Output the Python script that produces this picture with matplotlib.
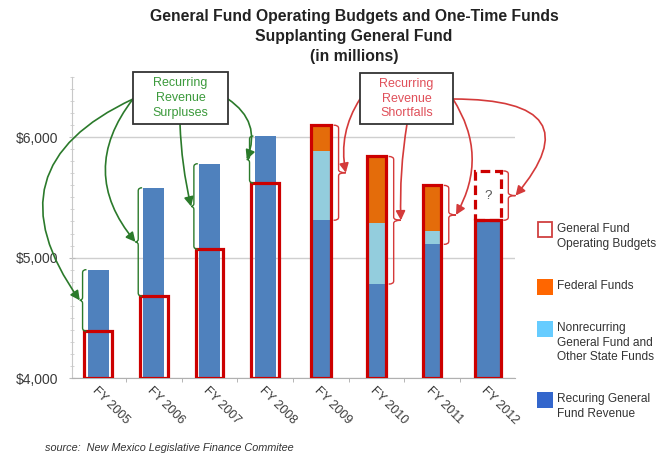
import numpy as np
import matplotlib
matplotlib.use('Agg')
import matplotlib.pyplot as plt
from matplotlib.patches import Rectangle, PathPatch
from matplotlib.path import Path
from matplotlib.ticker import MultipleLocator

plt.rcParams['font.family'] = ['Liberation Sans', 'DejaVu Sans']

# ---------- data (millions of dollars) ----------
years = ['FY 2005', 'FY 2006', 'FY 2007', 'FY 2008',
         'FY 2009', 'FY 2010', 'FY 2011', 'FY 2012']
recurring = [4900, 5580, 5780, 6010, 5310, 4780, 5110, 5310]
nonrecurring = [0, 0, 0, 0, 575, 510, 110, 0]
federal = [0, 0, 0, 0, 215, 550, 380, 0]
budgets = [4390, 4680, 5070, 5620, 6100, 5840, 5600, 5720]
base = 4000

legend_labels = ['General Fund\nOperating Budgets', 'Federal Funds',
                 'Nonrecurring\nGeneral Fund and\nOther State Funds',
                 'Recuring General\nFund Revenue']

# ---------- colours ----------
BLUE = '#4f81bd'
LIGHT = '#93cddd'
ORANGE = '#e46c0a'
RED = '#cc0000'
GREEN_T = '#3c9a3c'
GREEN_A = '#2b7a2b'
RED_T = '#e0505a'
RED_A = '#d43a3a'

W, H = 660, 455

def fx(px):
    return px / W

def fy(py):
    return 1 - py / H

fig = plt.figure(figsize=(W / 100, H / 100), dpi=100)
ax = fig.add_axes([fx(72), fy(378), (515 - 72) / W, (378 - 77) / H])

x = np.arange(len(years))
rec = np.array(recurring, dtype=float)
nonrec = np.array(nonrecurring, dtype=float)
fed = np.array(federal, dtype=float)
bud = np.array(budgets, dtype=float)

widths = np.array([0.38, 0.38, 0.38, 0.38, 0.36, 0.34, 0.32, 0.46])

ax.bar(x, rec - base, bottom=base, width=widths, color=BLUE, zorder=2)
ax.bar(x, nonrec, bottom=rec, width=widths, color=LIGHT, zorder=2)
ax.bar(x, fed, bottom=rec + nonrec, width=widths, color=ORANGE, zorder=2)

# red operating budget frames
ax.bar(x[:4], bud[:4] - base, bottom=base, width=0.5, fill=False,
       edgecolor=RED, linewidth=2.3, zorder=3)
ax.bar(x[4:7], bud[4:7] - base, bottom=base, width=widths[4:7], fill=False,
       edgecolor=RED, linewidth=2.3, zorder=3)
ax.bar(x[7:], rec[7:] - base, bottom=base, width=widths[7:], fill=False,
       edgecolor=RED, linewidth=2.3, zorder=3)
ax.bar(x[7:], bud[7:] - rec[7:], bottom=rec[7:], width=widths[7:], fill=False,
       edgecolor=RED, linewidth=2.3, linestyle=(0, (3, 1.5)), zorder=3)
ax.text(x[7], (rec[7] + bud[7]) / 2, '?', ha='center', va='center',
        fontsize=9.5, color='#555555', zorder=4)

# ---------- axes styling ----------
ax.set_xlim(-0.47, 7.49)
ax.set_ylim(base, 6500)
ax.set_yticks([4000, 5000, 6000])
ax.set_yticklabels(['$4,000', '$5,000', '$6,000'])
ax.yaxis.set_minor_locator(MultipleLocator(100))
ax.tick_params(axis='y', which='major', length=4, direction='inout',
               color='#bbbbbb', labelsize=10, labelcolor='#3a3a3a', pad=8)
ax.tick_params(axis='y', which='minor', length=3, direction='inout',
               color='#cccccc')
ax.set_xticks(x)
ax.set_xticklabels(years, rotation=-45, ha='left', va='top',
                   rotation_mode='anchor')
ax.set_xticks(x[:-1] + 0.5, minor=True)
ax.tick_params(axis='x', which='major', length=0, labelsize=9,
               labelcolor='#3a3a3a', pad=5)
ax.tick_params(axis='x', which='minor', length=3, color='#aaaaaa')

ax.yaxis.grid(True, color='#cfcfcf', linewidth=1)
ax.set_axisbelow(True)
for s in ['top', 'right']:
    ax.spines[s].set_visible(False)
ax.spines['left'].set_color('#c8c8c8')
ax.spines['bottom'].set_color('#b0b0b0')


# ---------- braces ----------
def brace(xb, y0, y1, w_end, w_tip, side, color):
    h = min(25, (y1 - y0) / 4)
    ym = (y0 + y1) / 2
    e = -side * w_end
    verts = [(xb + e, y1), (xb, y1), (xb, y1 - h),
             (xb, ym + h),
             (xb, ym), (xb + side * w_tip, ym),
             (xb, ym), (xb, ym - h),
             (xb, y0 + h),
             (xb, y0), (xb + e, y0)]
    codes = [Path.MOVETO, Path.CURVE3, Path.CURVE3, Path.LINETO,
             Path.CURVE3, Path.CURVE3, Path.CURVE3, Path.CURVE3,
             Path.LINETO, Path.CURVE3, Path.CURVE3]
    ax.add_patch(PathPatch(Path(verts, codes), fill=False, edgecolor=color,
                           linewidth=1.0, zorder=4, clip_on=False))
    return xb + side * w_tip, ym

tips = []
for i in range(4):
    xb = x[i] - widths[i] / 2 - 0.09
    tips.append(brace(xb, bud[i], rec[i], 0.07, 0.05, -1, GREEN_A))
for i in range(4, 8):
    top = max(bud[i], rec[i] + nonrec[i] + fed[i])
    xb = x[i] + widths[i] / 2 + 0.14
    tips.append(brace(xb, rec[i], top, 0.09, 0.13, 1, RED_A))

# ---------- callout boxes and arrows ----------
def callout(x0, y0, x1, y1, text, tcolor):
    fig.add_artist(Rectangle((fx(x0), fy(y1)), (x1 - x0) / W, (y1 - y0) / H,
                             transform=fig.transFigure, facecolor='white',
                             edgecolor='#333333', linewidth=1.3, zorder=5))
    fig.text(fx((x0 + x1) / 2), fy((y0 + y1) / 2), text, ha='center',
             va='center', fontsize=9, color=tcolor, linespacing=1.3,
             zorder=6)

def arrow(start, tip, style, color):
    ax.annotate('', xy=tip, xycoords='data',
                xytext=(fx(start[0]), fy(start[1])),
                textcoords='figure fraction',
                arrowprops=dict(arrowstyle='-|>,head_length=0.55,head_width=0.28',
                                color=color, lw=1.2, shrinkA=0, shrinkB=0,
                                connectionstyle=style),
                zorder=4, annotation_clip=False)

callout(133, 72, 228, 124, 'Recurring\nRevenue\nSurpluses', GREEN_T)
callout(360, 73, 453, 124, 'Recurring\nRevenue\nShortfalls', RED_T)

arrow((133, 99), tips[0], 'arc3,rad=0.6', GREEN_A)
arrow((133, 99), tips[1], 'arc3,rad=0.4', GREEN_A)
arrow((180, 124), tips[2], 'arc3,rad=0.05', GREEN_A)
arrow((228, 99), tips[3], 'arc3,rad=-0.4', GREEN_A)

arrow((360, 99), tips[4], 'arc3,rad=0.2', RED_A)
arrow((407, 124), tips[5], 'arc3,rad=0.05', RED_A)
arrow((453, 99), tips[6], 'arc3,rad=-0.3', RED_A)
arrow((453, 99), tips[7], 'angle3,angleA=0,angleB=50', RED_A)

# ---------- title, legend, source ----------
fig.text(fx(354), fy(9), 'General Fund Operating Budgets and One-Time Funds\n'
         'Supplanting General Fund\n(in millions)', ha='center', va='top',
         fontsize=11.3, fontweight='bold', color='#222222', linespacing=1.42)

leg_tops = [222, 279, 321, 392]
for lab, top, k in zip(legend_labels, leg_tops, range(4)):
    if k == 0:
        patch = Rectangle((fx(538), fy(top + 15)), 14 / W, 15 / H,
                          transform=fig.transFigure, facecolor='white',
                          edgecolor='#d04040', linewidth=1.3)
    else:
        col = ['#ff6600', '#66ccff', '#3366cc'][k - 1]
        patch = Rectangle((fx(537), fy(top + 16)), 16 / W, 16 / H,
                          transform=fig.transFigure, facecolor=col,
                          edgecolor='none')
    fig.add_artist(patch)
    fig.text(fx(557), fy(top + 1), lab, ha='left', va='top', fontsize=8.6,
             color='#333333', linespacing=1.3)

fig.text(fx(45), fy(448), 'source:  New Mexico Legislative Finance Commitee',
         fontsize=7.8, style='italic', color='#333333', va='center')

fig.savefig('out.png', dpi=100)
